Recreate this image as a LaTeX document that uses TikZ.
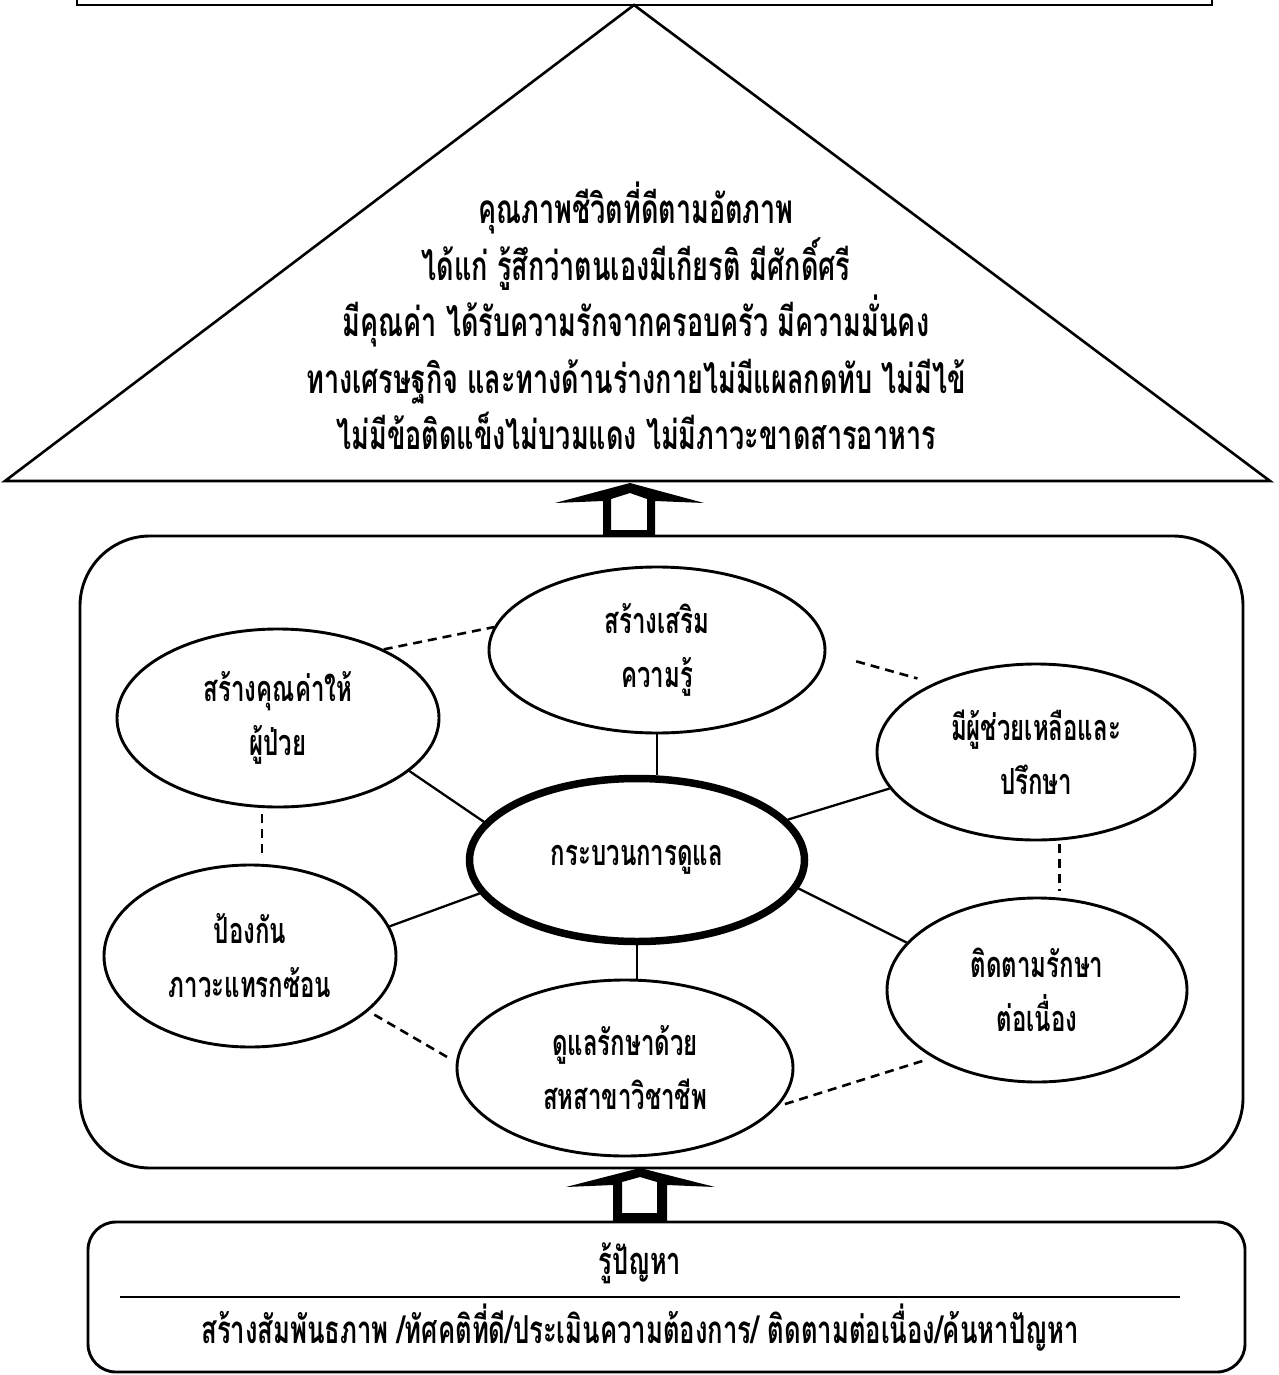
\documentclass[tikz,border=0pt]{standalone}
\usepackage{fontspec}
\usetikzlibrary{shapes.geometric}
\newfontfamily\thaifont[Script=Thai,FakeStretch=0.667]{Loma}

\begin{document}
\begin{tikzpicture}[x=1pt,y=-1pt,
  txt/.style={font=\thaifont\bfseries\fontsize{36}{54}\selectfont, align=center, inner sep=0pt},
  bubble/.style={ellipse, draw, line width=2.9pt, inner sep=0pt, txt},
  hub/.style={bubble, line width=7.5pt},
  link/.style={line width=2.3pt},
  dlink/.style={line width=2.6pt, dash pattern=on 9pt off 6pt},
  panel/.style={draw, line width=2.9pt, rounded corners=70pt, inner sep=0pt},
  basebox/.style={draw, line width=2.9pt, rounded corners=28pt, inner sep=0pt}
]
\useasboundingbox (0,0) rectangle (1278,1375);

% box above the triangle (only its lower edge is visible)
\draw[line width=2.9pt] (77,-40) rectangle (1212,5);

% goal triangle
\coordinate (apex) at (634,5);
\coordinate (baseL) at (5,481);
\coordinate (baseR) at (1270,481);
\draw[line width=2.6pt, line join=miter] (apex) -- (baseL) -- (baseR) -- cycle;
\node[txt, font=\thaifont\bfseries\fontsize{40.5}{56.5}\selectfont] (goal) at (636,316)
  {คุณภาพชีวิตที่ดีตามอัตภาพ\\
   ได้แก่ รู้สึกว่าตนเองมีเกียรติ มีศักดิ์ศรี\\
   มีคุณค่า ได้รับความรักจากครอบครัว มีความมั่นคง\\
   ทางเศรษฐกิจ และทางด้านร่างกายไม่มีแผลกดทับ ไม่มีไข้\\
   ไม่มีข้อติดแข็งไม่บวมแดง ไม่มีภาวะขาดสารอาหาร};

% care process panel
\node[panel, minimum width=1163pt, minimum height=632pt] (panel) at (661.5,852) {};

\node[bubble, minimum width=336pt, minimum height=166pt] (know)    at (657,650)  {สร้างเสริม\\ความรู้};
\node[bubble, minimum width=322pt, minimum height=178pt] (value)   at (278,718)  {สร้างคุณค่าให้\\ผู้ป่วย};
\node[bubble, minimum width=318pt, minimum height=176pt] (help)    at (1036,752) {มีผู้ช่วยเหลือและ\\ปรึกษา};
\node[hub,    minimum width=335pt, minimum height=163pt] (core)    at (637,860)  {กระบวนการดูแล};
\node[bubble, minimum width=292pt, minimum height=182pt] (prevent) at (250,956)  {ป้องกัน\\ภาวะแทรกซ้อน};
\node[bubble, minimum width=300pt, minimum height=184pt] (follow)  at (1037,990) {ติดตามรักษา\\ต่อเนื่อง};
\node[bubble, minimum width=336pt, minimum height=176pt] (multi)   at (625,1068) {ดูแลรักษาด้วย\\สหสาขาวิชาชีพ};

% spokes from the hub
\draw[link] (know.south) -- (know.south |- core.north);
\draw[link] (core.166) -- (value.-22);
\draw[link] (core.15) -- (help.194);
\draw[link] (core.-168) -- (prevent.12);
\draw[link] (core.-10) -- (follow.160);
\draw[link] (core.south) -- (core.south |- multi.north);

% dashed ring between the outer bubbles
\draw[dlink] (value.33) -- (know.172);
\draw[dlink, shorten <=31pt, shorten >=17pt] (know.-1) -- (help.146);
\draw[dlink, shorten <=6pt, shorten >=6pt] (value.-100) -- (value.-100 |- prevent.north);
\draw[dlink, shorten <=4pt, shorten >=6pt] (help.-75) -- (help.-75 |- follow.north);
\draw[dlink, shorten <=7pt, shorten >=5pt] (prevent.-25) -- (multi.178);
\draw[dlink, shorten <=7pt, shorten >=6pt] (multi.-14) -- (follow.213);

% hollow block arrows
\fill[even odd rule] (630,483) -- (704,503) -- (655,501) -- (655,536) -- (603,536) -- (603,501) -- (555,503) -- cycle
  (630,493) -- (647,499) -- (647,530) -- (611,530) -- (611,499) -- cycle;
\fill[even odd rule] (640,1168) -- (715,1187) -- (667,1185) -- (667,1222) -- (613,1222) -- (613,1185) -- (566,1187) -- cycle
  (640,1177) -- (657,1182) -- (657,1213) -- (622,1213) -- (622,1182) -- cycle;

% foundation box
\node[basebox, minimum width=1157pt, minimum height=150pt] (found) at (666.5,1297) {};
\coordinate (ruleL) at (120,1297);
\coordinate (ruleR) at (1180,1297);
\draw[line width=2.6pt] (ruleL) -- (ruleR);
\node[txt, font=\thaifont\bfseries\fontsize{38}{54}\selectfont] (problem) at (640,1263) {รู้ปัญหา};
\node[txt, font=\thaifont\bfseries\fontsize{38.5}{54}\selectfont] (steps) at (640,1328) {สร้างสัมพันธภาพ /ทัศคติที่ดี/ประเมินความต้องการ/ ติดตามต่อเนื่อง/ค้นหาปัญหา};
\end{tikzpicture}
\end{document}
